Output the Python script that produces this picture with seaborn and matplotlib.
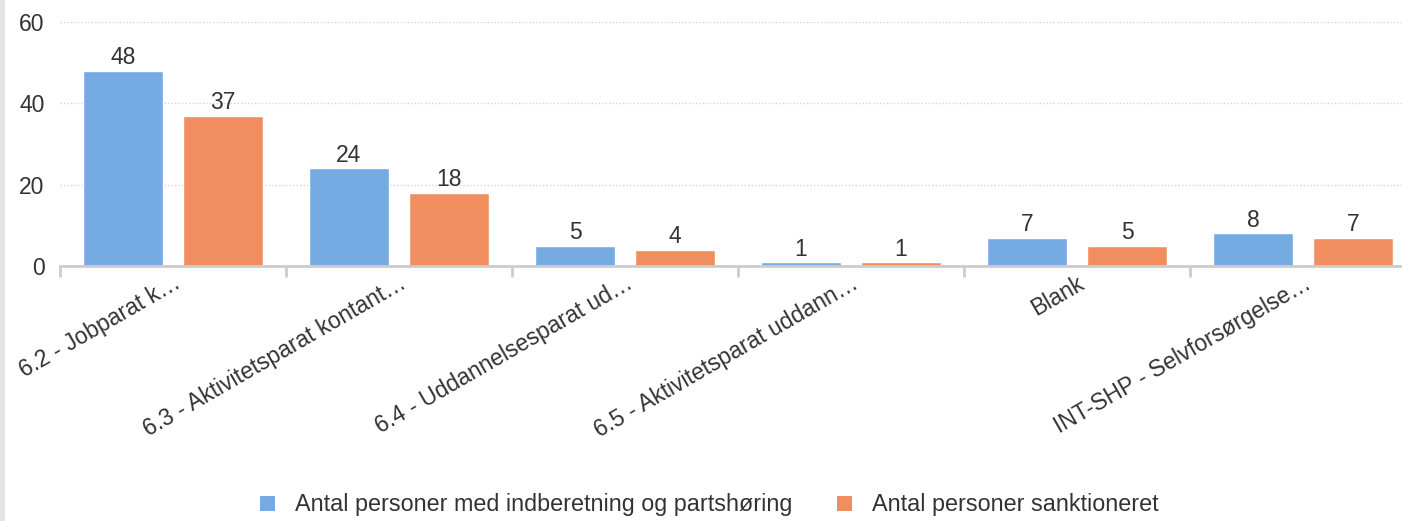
import matplotlib
matplotlib.use("Agg")
import matplotlib.pyplot as plt
from matplotlib.patches import Patch, Rectangle
import pandas as pd
import seaborn as sns

# data
categories = ["6.2 - Jobparat k…", "6.3 - Aktivitetsparat kontant…",
              "6.4 - Uddannelsesparat ud…", "6.5 - Aktivitetsparat uddann…",
              "Blank", "INT-SHP - Selvforsørgelse…"]
series = ["Antal personer med indberetning og partshøring",
          "Antal personer sanktioneret"]
indberetning = [48, 24, 5, 1, 7, 8]
sanktioneret = [37, 18, 4, 1, 5, 7]
colors = ["#75AAE2", "#F08E5F"]

df = pd.DataFrame({
    "kategori": categories * 2,
    "serie": [series[0]] * len(categories) + [series[1]] * len(categories),
    "antal": indberetning + sanktioneret,
})

sns.set_theme(style="white")
plt.rcParams["font.family"] = ["Liberation Sans", "DejaVu Sans"]
text_col = "#333333"
fs = 16.5

fig = plt.figure(figsize=(14.02, 5.21), dpi=100)
ax = fig.add_axes([60 / 1402, 1 - 266 / 521, 1 - 60 / 1402, (266 - 22) / 521])

sns.barplot(data=df, x="kategori", y="antal", hue="serie", palette=colors,
            width=0.885, gap=0.2, saturation=1, ax=ax, legend=False)

for cont in ax.containers:
    ax.bar_label(cont, fmt="%d", padding=1, fontsize=fs, color=text_col)

ax.set_yticks([0, 20, 40, 60])
ax.set_xticks(range(len(categories)))
ax.set_xticks([i - 0.5 for i in range(len(categories) + 1)], minor=True)
# limits after the ticks, set_xticks would widen the view otherwise
ax.set_ylim(0, 60)
ax.set_xlim(-0.5, -0.5 + 1342 / 226)
ax.set_xlabel("")
ax.set_ylabel("")

ax.yaxis.grid(True, linestyle=(0, (1, 1.5)), color="#d4d4d4", linewidth=1)
ax.set_axisbelow(True)
for s in ["left", "top", "right"]:
    ax.spines[s].set_visible(False)
ax.spines["bottom"].set_color("#cccccc")
ax.spines["bottom"].set_linewidth(2)

ax.tick_params(axis="y", length=0, pad=11, labelsize=fs, labelcolor=text_col)
ax.tick_params(axis="x", which="major", bottom=False, length=0, pad=4,
               labelsize=fs, labelcolor=text_col)
ax.tick_params(axis="x", which="minor", bottom=True, length=8, width=2,
               color="#cccccc", direction="out")
for lab in ax.get_xticklabels():
    lab.set_rotation(30)
    lab.set_ha("right")
    lab.set_va("top")
    lab.set_rotation_mode("anchor")

handles = [Patch(facecolor=c, edgecolor="none") for c in colors]
fig.legend(handles, series, loc="center", ncol=2, frameon=False,
           bbox_to_anchor=(709 / 1402, 1 - 505 / 521), fontsize=16.8,
           labelcolor=text_col, handlelength=0.65, handleheight=0.65,
           handletextpad=0.85, columnspacing=1.9)

# light grey strip at the left edge
fig.patches.append(Rectangle((0, 0), 5 / 1402, 1, transform=fig.transFigure,
                             facecolor="#e6e4e6", edgecolor="none"))

fig.savefig("out.png", dpi=100)
